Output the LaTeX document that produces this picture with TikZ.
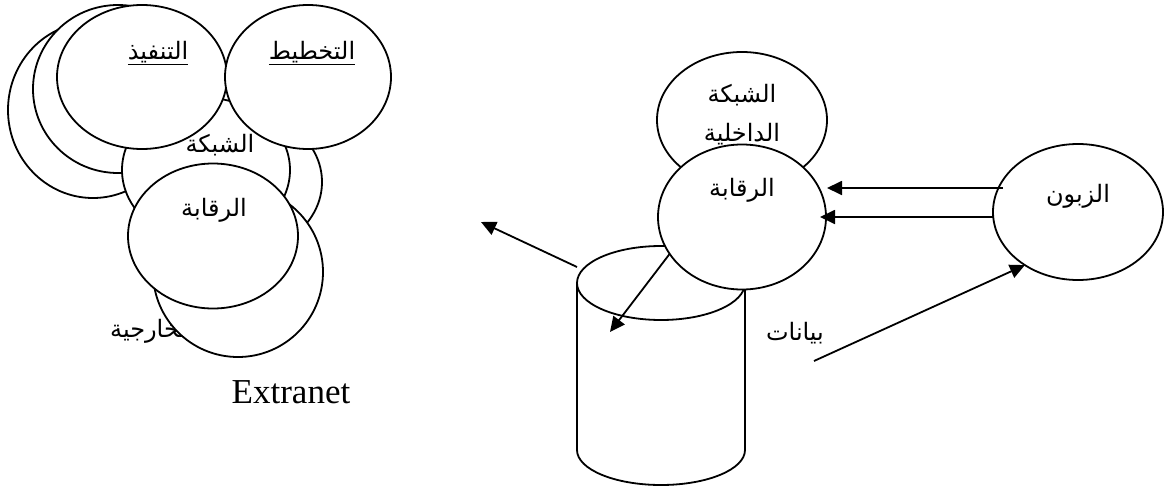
\documentclass[tikz,border=0pt]{standalone}
\usepackage{fontspec}
\setmainfont{Liberation Serif}
\newfontfamily\arabicfont[Script=Arabic]{DejaVu Sans}
\TeXXeTstate=1
\usetikzlibrary{shapes.geometric,arrows.meta}

\newcommand\artxt[1]{\beginR #1\endR}

\tikzset{
  oval/.style={ellipse, draw, line width=1.8pt, fill=white, inner sep=0pt, outer sep=0pt},
  artext/.style={font=\arabicfont\fontsize{24}{39}\selectfont, inner sep=0pt, align=center},
  arr/.style={line width=1.8pt, -{Triangle[length=15pt,width=14pt]}},
  line/.style={line width=1.8pt},
}

\begin{document}
\begin{tikzpicture}[x=1pt,y=-1pt]
\useasboundingbox (0,0) rectangle (1168,490);

% ---- left cluster (back to front) ----
\node[oval, minimum width=170pt, minimum height=176pt] (back1) at (93,110) {};
\node[oval, minimum width=170pt, minimum height=168pt] (back2) at (118,89) {};
\node[oval, minimum width=170pt, minimum height=144pt] (extnet) at (237,182) {};
\node[oval, minimum width=168pt, minimum height=144pt] (shabaka) at (206,170) {};
\node[artext] (shabakaT) at (220,145) {\artxt{الشبكة}};
\node[oval, minimum width=170pt, minimum height=144pt] (tanfiz) at (142,77) {};
\node[oval, minimum width=166pt, minimum height=144pt] (takhtit) at (308,77) {};
\node[artext] (tanfizT) at (158,53) {\underline{\artxt{التنفيذ}}};
\node[artext] (takhtitT) at (312,53) {\underline{\artxt{التخطيط}}};
\node[artext, anchor=west] (kharijT) at (110,331) {\artxt{الخارجية}};
\node[oval, minimum width=170pt, minimum height=170pt] (lower) at (238,272) {};
\node[oval, minimum width=170pt, minimum height=145pt] (raqabaL) at (213,236) {};
\node[artext] (raqabaLT) at (214,210) {\artxt{الرقابة}};

\node[font=\fontsize{35}{40}\selectfont, anchor=base, inner sep=0pt] (extranet) at (291,403) {Extranet};

% ---- data store ----
\filldraw[line, fill=white] (577,283) -- (577,450)
  arc[start angle=180, end angle=0, x radius=84, y radius=35] -- (745,283);
\draw[line] (661,283) ellipse [x radius=84, y radius=37];
\node[artext] (bayanat) at (795,333) {\artxt{بيانات}};

% ---- right group ----
\node[oval, minimum width=170pt, minimum height=136pt] (intranet) at (742,120) {};
\node[artext] (intranetT) at (742,115) {\artxt{الشبكة}\\\artxt{الداخلية}};
\node[oval, minimum width=168pt, minimum height=145pt] (raqabaR) at (742,217) {};
\node[artext] (raqabaRT) at (742,190) {\artxt{الرقابة}};
\node[oval, minimum width=170pt, minimum height=136pt] (zaboun) at (1078,212) {};
\node[artext] (zabounT) at (1078,196) {\artxt{الزبون}};

% ---- connectors ----
\coordinate (outS) at (577,267);
\coordinate (outE) at (481,222);
\coordinate (storeE) at (610,332);
\coordinate (inA) at (1003,188);
\coordinate (inAE) at (827,188);
\coordinate (inB) at (993,217);
\coordinate (inBE) at (820,217);
\coordinate (feedS) at (814,361);

\draw[arr] (outS) -- (outE);
\draw[arr] (raqabaR.207) -- (storeE);
\draw[arr] (inA) -- (inAE);
\draw[arr] (inB) -- (inBE);
\draw[arr] (feedS) -- (zaboun.225);
\end{tikzpicture}
\end{document}
